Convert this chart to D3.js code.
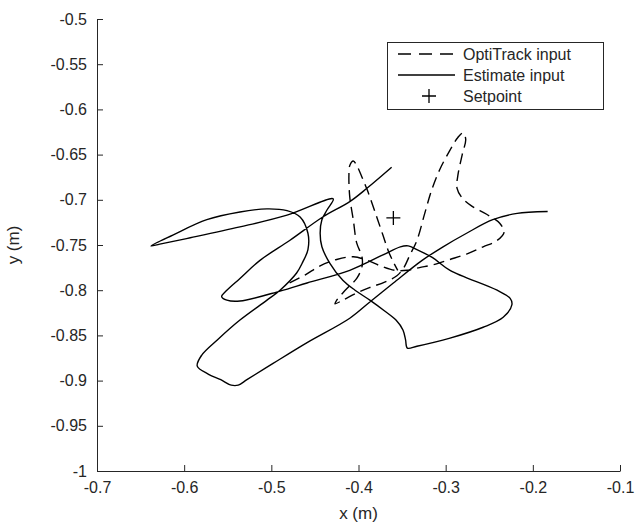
<!DOCTYPE html>
<html>
<head>
<meta charset="utf-8">
<script src="https://cdn.jsdelivr.net/npm/d3@7"></script>
<style>
  body { margin: 0; background: #fff; }
  svg text { font-family: "Liberation Sans", Arial, sans-serif; fill: #262626; }
</style>
</head>
<body>
<div id="chart"></div>
<script>
// tick values / labels
let xTicks = [-0.7, -0.6, -0.5, -0.4, -0.3, -0.2, -0.1];
let xTickLabels = ["-0.7", "-0.6", "-0.5", "-0.4", "-0.3", "-0.2", "-0.1"];
let yTicks = [-1, -0.95, -0.9, -0.85, -0.8, -0.75, -0.7, -0.65, -0.6, -0.55, -0.5];
let yTickLabels = ["-1", "-0.95", "-0.9", "-0.85", "-0.8", "-0.75", "-0.7", "-0.65", "-0.6", "-0.55", "-0.5"];

// estimate input (solid)
let estX = [-0.362, -0.390, -0.410, -0.441, -0.479, -0.513, -0.536, -0.552, -0.557, -0.551,
  -0.536, -0.490, -0.459, -0.410, -0.372, -0.352, -0.343, -0.333, -0.315, -0.295,
  -0.241, -0.226, -0.224, -0.234, -0.257, -0.295, -0.333, -0.344, -0.346, -0.349,
  -0.357, -0.370, -0.387, -0.404, -0.418, -0.433, -0.442, -0.444, -0.442, -0.436,
  -0.429, -0.482, -0.536, -0.593, -0.628, -0.638, -0.613, -0.574, -0.536, -0.505,
  -0.482, -0.467, -0.458, -0.458, -0.464, -0.471, -0.490, -0.505, -0.536, -0.562,
  -0.580, -0.585, -0.572, -0.558, -0.546, -0.538, -0.528, -0.498, -0.459, -0.410,
  -0.387, -0.360, -0.327, -0.303, -0.276, -0.246, -0.218, -0.183];
let estY = [-0.664, -0.687, -0.702, -0.719, -0.745, -0.767, -0.787, -0.801, -0.807, -0.811,
  -0.812, -0.801, -0.792, -0.778, -0.761, -0.752, -0.751, -0.755, -0.764, -0.778,
  -0.800, -0.809, -0.816, -0.830, -0.841, -0.853, -0.862, -0.864, -0.855, -0.844,
  -0.833, -0.823, -0.811, -0.800, -0.789, -0.770, -0.752, -0.737, -0.722, -0.711,
  -0.699, -0.717, -0.730, -0.742, -0.749, -0.751, -0.739, -0.722, -0.7135, -0.710,
  -0.712, -0.719, -0.737, -0.755, -0.769, -0.781, -0.800, -0.811, -0.833, -0.855,
  -0.872, -0.884, -0.893, -0.899, -0.905, -0.905, -0.899, -0.881, -0.858, -0.831,
  -0.813, -0.792, -0.767, -0.752, -0.737, -0.722, -0.715, -0.713];

// optitrack input (dashed)
let optiX = [-0.479, -0.461, -0.444, -0.425, -0.406, -0.390, -0.375, -0.358, -0.344, -0.330,
  -0.315, -0.295, -0.276, -0.257, -0.241, -0.233, -0.238, -0.253, -0.270, -0.281,
  -0.287, -0.286, -0.281, -0.277, -0.280, -0.286, -0.295, -0.307, -0.316, -0.324,
  -0.333, -0.341, -0.348, -0.356, -0.370, -0.387, -0.402, -0.418, -0.427, -0.425,
  -0.418, -0.410, -0.402, -0.396, -0.396, -0.402, -0.406, -0.410, -0.411, -0.410,
  -0.406, -0.402, -0.396, -0.390, -0.383, -0.378, -0.372, -0.366, -0.360, -0.355];
let optiY = [-0.792, -0.783, -0.773, -0.766, -0.763, -0.767, -0.773, -0.778, -0.778, -0.775,
  -0.772, -0.766, -0.760, -0.752, -0.745, -0.736, -0.726, -0.716, -0.707, -0.698,
  -0.687, -0.673, -0.650, -0.633, -0.626, -0.631, -0.645, -0.667, -0.689, -0.715,
  -0.745, -0.761, -0.775, -0.784, -0.791, -0.797, -0.803, -0.811, -0.815, -0.811,
  -0.803, -0.795, -0.787, -0.774, -0.763, -0.748, -0.722, -0.697, -0.673, -0.662,
  -0.657, -0.662, -0.675, -0.689, -0.708, -0.722, -0.739, -0.756, -0.769, -0.778];

let setpoint = [-0.36, -0.72];

let width = 635, height = 527;
let mLeft = 97, mRight = 620, mTop = 19, mBottom = 471;

let svg = d3.select("#chart")
  .append("svg")
  .attr("width", width)
  .attr("height", height);

let x = d3.scaleLinear().domain([-0.7, -0.1]).range([mLeft, mRight]);
let y = d3.scaleLinear().domain([-1, -0.5]).range([mBottom, mTop]);

// axes, ticks inside
let xAxis = svg.append("g")
  .attr("transform", "translate(0," + mBottom + ")")
  .call(d3.axisBottom(x)
    .tickValues(xTicks)
    .tickFormat(function (d, i) { return xTickLabels[i]; })
    .tickSizeInner(-6)
    .tickSizeOuter(0)
    .tickPadding(11));
let yAxis = svg.append("g")
  .attr("transform", "translate(" + mLeft + ",0)")
  .call(d3.axisLeft(y)
    .tickValues(yTicks)
    .tickFormat(function (d, i) { return yTickLabels[i]; })
    .tickSizeInner(-6)
    .tickSizeOuter(0)
    .tickPadding(10));

[xAxis, yAxis].forEach(function (g) {
  g.selectAll("path, line").attr("stroke", "#262626").attr("stroke-width", 1);
  g.selectAll("text")
    .attr("font-size", 16)
    .style("font-family", "'Liberation Sans', Arial, sans-serif")
    .attr("fill", "#262626");
});

svg.append("text")
  .attr("x", (mLeft + mRight) / 2)
  .attr("y", 519)
  .attr("text-anchor", "middle")
  .attr("font-size", 17)
  .text("x (m)");
svg.append("text")
  .attr("transform", "translate(19," + ((mTop + mBottom) / 2) + ") rotate(-90)")
  .attr("text-anchor", "middle")
  .attr("font-size", 17)
  .text("y (m)");

let line = d3.line()
  .x(function (d) { return x(d[0]); })
  .y(function (d) { return y(d[1]); })
  .curve(d3.curveCatmullRom.alpha(0.5));

let optiData = optiX.map(function (v, i) { return [v, optiY[i]]; });
let estData = estX.map(function (v, i) { return [v, estY[i]]; });

svg.append("path")
  .datum(optiData)
  .attr("d", line)
  .attr("fill", "none")
  .attr("stroke", "#000")
  .attr("stroke-width", 1.4)
  .attr("stroke-dasharray", "11,6");

svg.append("path")
  .datum(estData)
  .attr("d", line)
  .attr("fill", "none")
  .attr("stroke", "#000")
  .attr("stroke-width", 1.4);

// setpoint marker
let sx = x(setpoint[0]), sy = y(setpoint[1]);
svg.append("path")
  .attr("d", "M" + (sx - 7) + "," + sy + "H" + (sx + 7) + "M" + sx + "," + (sy - 7) + "V" + (sy + 7))
  .attr("stroke", "#000")
  .attr("stroke-width", 1.3);

// legend
let lg = svg.append("g");
lg.append("rect")
  .attr("x", 387.5).attr("y", 42.5)
  .attr("width", 216).attr("height", 67)
  .attr("fill", "#fff")
  .attr("stroke", "#262626")
  .attr("stroke-width", 1);

let items = [
  { name: "OptiTrack input", kind: "dash" },
  { name: "Estimate input", kind: "solid" },
  { name: "Setpoint", kind: "plus" }
];
items.forEach(function (it, i) {
  let cy = 54 + i * 21;
  if (it.kind === "plus") {
    lg.append("path")
      .attr("d", "M" + 422 + "," + cy + "H" + 436 + "M" + 429 + "," + (cy - 7) + "V" + (cy + 7))
      .attr("stroke", "#000").attr("stroke-width", 1.3);
  } else {
    lg.append("line")
      .attr("x1", 398).attr("x2", 455)
      .attr("y1", cy).attr("y2", cy)
      .attr("stroke", "#000").attr("stroke-width", 1.4)
      .attr("stroke-dasharray", it.kind === "dash" ? "13,8" : null);
  }
  lg.append("text")
    .attr("x", 463).attr("y", cy)
    .attr("dy", "0.36em")
    .attr("font-size", 16)
    .text(it.name);
});
</script>
</body>
</html>
